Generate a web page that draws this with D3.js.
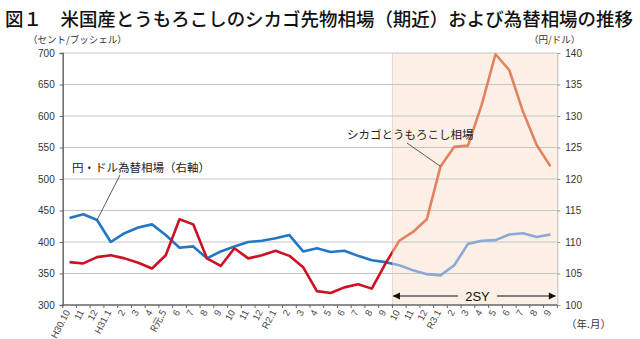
<!DOCTYPE html>
<html><head><meta charset="utf-8">
<script src="https://cdn.jsdelivr.net/npm/d3@7"></script>
<style>
html,body{margin:0;padding:0;background:#fff;}
svg{display:block;}
text{font-family:"Liberation Sans Narrow","Liberation Sans",Arial,sans-serif;}
.jp{font-family:"Noto Sans CJK JP","Noto Sans",sans-serif;}
</style></head>
<body>
<svg id="chart" width="640" height="339"></svg>
<script>
const months = ["H30.10","11","12","H31.1","2","3","4","R元.5","6","7","8","9","10","11","12",
  "R2.1","2","3","4","5","6","7","8","9","10","11","12","R3.1","2","3","4","5","6","7","8","9"];
const corn = [368,366,376,379,374,367,358,379,436,428,374,362,390,374,379,386,378,360,
  322,319,328,333,326,366,402,416,436,520,551,553,618,698,673,607,554,520];
const yen = [113.8,114.4,113.5,110.0,111.4,112.3,112.8,111.1,109.1,109.3,107.4,108.5,109.3,110.0,
  110.2,110.6,111.1,108.5,109.0,108.4,108.6,107.8,107.1,106.8,106.3,105.5,104.9,104.7,106.3,109.7,
  110.2,110.3,111.2,111.4,110.8,111.2];
const leftTicks = [300,350,400,450,500,550,600,650,700];
const rightTicks = [100,105,110,115,120,125,130,135,140];
const forecastStart = 24;

const svg = d3.select("#chart");
const L = 62.7, R = 557.3, T = 53, B = 305;
const x = d3.scaleBand().domain(d3.range(months.length)).range([L, R]);
const cx = i => x(i) + x.bandwidth()/2;
const yL = d3.scaleLinear().domain([300,700]).range([B, T]);
const yR = d3.scaleLinear().domain([100,140]).range([B, T]);
const xs = x(forecastStart);

// title
svg.append("text").attr("class","jp").attr("x",5).attr("y",26)
  .attr("font-size",18.5).attr("font-weight",500).attr("fill","#111")
  .attr("textLength",628).attr("lengthAdjust","spacingAndGlyphs")
  .text("図１　米国産とうもろこしのシカゴ先物相場（期近）および為替相場の推移");

// shaded forecast region
svg.append("rect").attr("x",xs).attr("y",T).attr("width",R-xs).attr("height",B-T)
  .attr("fill","#fcefe6");
svg.append("line").attr("x1",xs).attr("x2",xs).attr("y1",T).attr("y2",B)
  .attr("stroke","#ead5c8").attr("stroke-width",1);

// gridlines
svg.append("g").selectAll("line").data(leftTicks.filter(d=>d>300)).join("line")
  .attr("x1",L).attr("x2",R).attr("y1",d=>yL(d)).attr("y2",d=>yL(d))
  .attr("stroke","#c4c4c4").attr("stroke-width",1);

// axes
const gl = svg.append("g").attr("transform",`translate(${L},0)`)
  .call(d3.axisLeft(yL).tickValues(leftTicks).tickSize(3).tickPadding(5));
gl.select(".domain").attr("stroke","#666").attr("stroke-width",1.5);
gl.selectAll(".tick line").attr("stroke","#666");
gl.selectAll(".tick text").attr("font-size",10).attr("fill","#333")
  .attr("font-family",'"Liberation Sans Narrow","Liberation Sans",Arial,sans-serif');

const gr = svg.append("g").attr("transform",`translate(${R},0)`)
  .call(d3.axisRight(yR).tickValues(rightTicks).tickSize(3).tickPadding(5));
gr.select(".domain").attr("stroke","#bbb").attr("stroke-width",1);
gr.selectAll(".tick line").attr("stroke","#999");
gr.selectAll(".tick text").attr("font-size",10).attr("fill","#333")
  .attr("font-family",'"Liberation Sans Narrow","Liberation Sans",Arial,sans-serif');

// x axis
const gx = svg.append("g").attr("transform",`translate(0,${B})`);
gx.append("line").attr("x1",L).attr("x2",R).attr("stroke","#666").attr("stroke-width",1.5);
gx.selectAll("line.t").data(d3.range(months.length+1)).join("line").attr("class","t")
  .attr("x1",i=>L + i*x.step()).attr("x2",i=>L + i*x.step()).attr("y1",0).attr("y2",3)
  .attr("stroke","#666");
gx.selectAll("text").data(months).join("text")
  .attr("class",(d)=>d.includes("元")?"jp":null)
  .attr("transform",(d,i)=>`translate(${cx(i)+1},${7}) rotate(-62)`)
  .attr("text-anchor","end").attr("font-size",9.5).attr("fill","#444")
  .text(d=>d);

// clip paths
const defs = svg.append("defs");
defs.append("clipPath").attr("id","past").append("rect")
  .attr("x",0).attr("y",0).attr("width",xs).attr("height",339);
defs.append("clipPath").attr("id","fut").append("rect")
  .attr("x",xs).attr("y",0).attr("width",640-xs).attr("height",339);

const lineCorn = d3.line().x((d,i)=>cx(i)).y(d=>yL(d));
const lineYen = d3.line().x((d,i)=>cx(i)).y(d=>yR(d));

function draw(data, gen, col, clip){
  svg.append("path").datum(data).attr("d",gen).attr("fill","none")
    .attr("stroke",col).attr("stroke-width",2.6).attr("stroke-linejoin","round")
    .attr("clip-path",`url(#${clip})`);
}
draw(yen, lineYen, "#8ca8d6", "fut");
draw(corn, lineCorn, "#e2825e", "fut");
draw(yen, lineYen, "#2276c4", "past");
draw(corn, lineCorn, "#cc1122", "past");

// annotations
svg.append("text").attr("class","jp").attr("x",72).attr("y",172).attr("font-size",11.5)
  .attr("fill","#222").text("円・ドル為替相場（右軸）");
svg.append("line").attr("x1",120).attr("y1",175).attr("x2",cx(2)).attr("y2",yR(yen[2]))
  .attr("stroke","#333").attr("stroke-width",0.8);
svg.append("text").attr("class","jp").attr("x",347).attr("y",139).attr("font-size",11.5)
  .attr("fill","#222").text("シカゴとうもろこし相場");
svg.append("line").attr("x1",407).attr("y1",143).attr("x2",cx(27)).attr("y2",yL(corn[27]))
  .attr("stroke","#333").attr("stroke-width",0.8);

// axis titles
svg.append("text").attr("class","jp").attr("x",28).attr("y",43).attr("font-size",9.5)
  .attr("fill","#333").text("（セント/ブッシェル）");
svg.append("text").attr("class","jp").attr("x",529).attr("y",43).attr("font-size",9.5)
  .attr("fill","#333").text("（円/ドル）");
svg.append("text").attr("class","jp").attr("x",566).attr("y",328).attr("font-size",10.5)
  .attr("fill","#333").text("（年.月）");

// 2SY arrow
const ay = 296;
defs.append("marker").attr("id","ah").attr("viewBox","0 0 10 10").attr("refX",9).attr("refY",5)
  .attr("markerWidth",8).attr("markerHeight",6).attr("orient","auto-start-reverse")
  .append("path").attr("d","M0,0 L10,5 L0,10 z").attr("fill","#111");
svg.append("line").attr("x1",458).attr("x2",xs+1).attr("y1",ay).attr("y2",ay)
  .attr("stroke","#111").attr("stroke-width",1.2).attr("marker-end","url(#ah)");
svg.append("line").attr("x1",497).attr("x2",R-2).attr("y1",ay).attr("y2",ay)
  .attr("stroke","#111").attr("stroke-width",1.2).attr("marker-end","url(#ah)");
svg.append("text").attr("x",477.5).attr("y",ay+5).attr("text-anchor","middle")
  .attr("font-size",13).attr("font-family","Liberation Sans, Arial, sans-serif")
  .attr("fill","#111").text("2SY");
</script>
</body></html>
